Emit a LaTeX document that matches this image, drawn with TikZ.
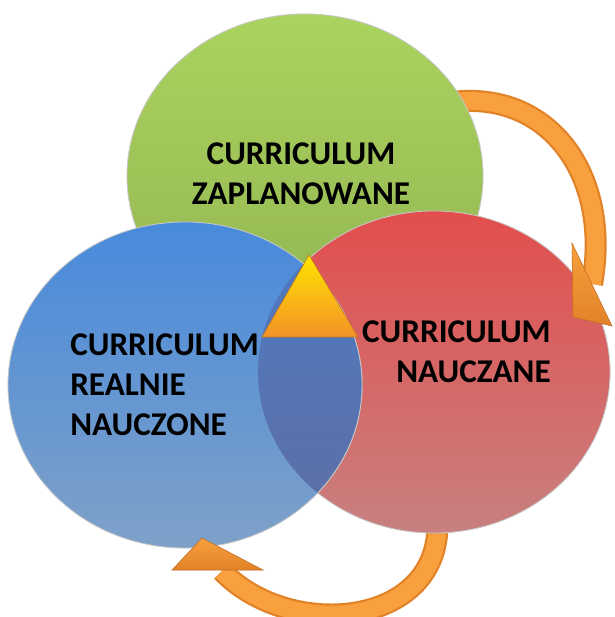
\documentclass[tikz,border=0pt]{standalone}
\usepackage{fontspec}
\setmainfont{Carlito}
\usetikzlibrary{arrows}

\definecolor{zielonyG}{RGB}{170,211,94}
\definecolor{zielonyD}{RGB}{146,180,82}
\definecolor{czerwonyG}{RGB}{226,78,76}
\definecolor{czerwonyD}{RGB}{200,128,128}
\definecolor{niebieskiG}{RGB}{72,138,220}
\definecolor{niebieskiD}{RGB}{126,161,200}
\definecolor{wspolnyG}{RGB}{76,122,196}
\definecolor{wspolnyD}{RGB}{96,110,162}
\definecolor{pomC}{RGB}{226,130,40}
\definecolor{pomJ}{RGB}{248,160,62}
\definecolor{trojG}{RGB}{255,228,0}
\definecolor{trojD}{RGB}{244,146,40}

\begin{document}
\begin{tikzpicture}[x=0.025cm, y=-0.025cm]
    \tikzstyle{kolo}=[draw=black!22, line width=0.6pt]
    \tikzstyle{opis}=[font=\bfseries\fontsize{23.6}{28.5}\selectfont, text=black, inner sep=0pt]
    \tikzstyle{wstega}=[line width=0.55cm, pomC]
    \tikzstyle{srodek}=[line width=0.44cm, pomJ]
    \tikzstyle{grot}=[top color=pomJ, bottom color=pomC, draw=pomC!85!black, line width=0.4pt]

    \useasboundingbox (0,0) rectangle (614,617);

    \coordinate (Z) at (305,176);
    \coordinate (N) at (434,372);
    \coordinate (R) at (185,385);

    \coordinate (zs) at (445,103);
    \coordinate (ze) at (592,284);
    \coordinate (ns) at (437,515);
    \coordinate (ne) at (222,571);

    \draw[wstega] (zs) .. controls (548,86) and (612,175) .. (ze);
    \draw[srodek] (zs) .. controls (548,86) and (612,175) .. (ze);
    \draw[wstega] (ns) .. controls (447,628) and (290,642) .. (ne);
    \draw[srodek] (ns) .. controls (447,628) and (290,642) .. (ne);

    \shade[kolo, top color=zielonyG, bottom color=zielonyD] (Z) ellipse [x radius=4.45cm, y radius=4.05cm];
    \shade[kolo, top color=czerwonyG, bottom color=czerwonyD] (N) ellipse [x radius=4.4cm, y radius=4.025cm];
    \shade[kolo, top color=niebieskiG, bottom color=niebieskiD] (R) ellipse [x radius=4.425cm, y radius=4.075cm];
    \begin{scope}
        \clip (N) ellipse [x radius=4.4cm, y radius=4.025cm];
        \shade[kolo, top color=wspolnyG, bottom color=wspolnyD] (R) ellipse [x radius=4.425cm, y radius=4.075cm];
    \end{scope}

    \shade[grot] (572,243) -- (612,326) -- (573,317) -- cycle;
    \shade[grot] (172,570) -- (263,570) -- (202,538) -- cycle;

    \shade[top color=trojG, bottom color=trojD, draw=trojD!80!black, line width=0.4pt]
        (309,255) -- (358,337) -- (262,337) -- cycle;

    \node[opis, align=center] (tZ) at (301,174) {CURRICULUM\\ZAPLANOWANE};
    \node[opis, align=right, anchor=east] (tN) at (551,352) {CURRICULUM\\NAUCZANE};
    \node[opis, align=left, anchor=west] (tR) at (70,385) {CURRICULUM\\REALNIE\\NAUCZONE};
\end{tikzpicture}
\end{document}
